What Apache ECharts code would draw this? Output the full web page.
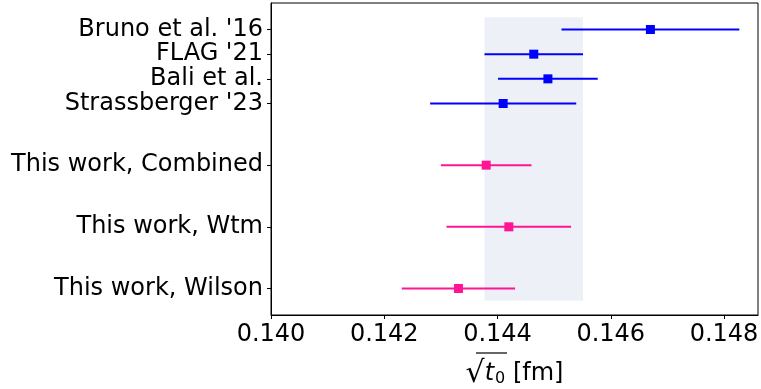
<!DOCTYPE html>
<html>
<head>
<meta charset="utf-8">
<script src="https://cdn.jsdelivr.net/npm/echarts@6/dist/echarts.min.js"></script>
<style>html,body{margin:0;padding:0;background:#fff}#main{width:761px;height:389px}</style>
</head>
<body>
<div id="main"></div>
<script>
// rows, bottom to top
var labels = ['This work, Wilson', 'This work, Wtm', 'This work, Combined', "Strassberger '23", 'Bali et al.', "FLAG '21", "Bruno et al. '16"];
var rowPos = [0, 2.5, 5, 7.5, 8.5, 9.5, 10.5];
var centers = [0.14331, 0.14420, 0.14380, 0.14410, 0.14489, 0.14464, 0.14670];
var errors = [0.00100, 0.00110, 0.00080, 0.00129, 0.00088, 0.00087, 0.00157];
var groups = ['this', 'this', 'this', 'ref', 'ref', 'ref', 'ref'];
var xTicks = [0.140, 0.142, 0.144, 0.146, 0.148];
var bandX = [0.14377, 0.14551];   // FLAG band
var bandY = [-0.5, 11];

var colorOf = { 'this': '#ff1493', 'ref': '#0000ff' };
var font = 'DejaVu Sans';
var fs = 24;

var pts = [];
for (var i = 0; i < labels.length; i++) {
	pts.push([centers[i], rowPos[i], errors[i], i]);
}

var chart = echarts.init(document.getElementById('main'));
var option = {
	animation: false,
	grid: {
		left: 271, right: 3, top: 3, bottom: 74,
		containLabel: false,
		outerBoundsMode: 'none',
		show: true, borderColor: '#000', borderWidth: 1, backgroundColor: 'transparent'
	},
	graphic: [
		// bar over t0 of the square root
		{ type: 'line', shape: { x1: 476, y1: 353, x2: 507, y2: 353 }, style: { stroke: '#000', lineWidth: 1.2 }, z: 10 }
	],
	xAxis: {
		type: 'value',
		min: 0.140,
		max: 0.1486,
		splitLine: { show: false },
		axisLine: { show: true, onZero: false, lineStyle: { color: '#000', width: 1 } },
		axisTick: { show: true, length: 4, lineStyle: { color: '#000' }, customValues: xTicks },
		axisLabel: {
			color: '#000', fontFamily: font, fontSize: fs, margin: 8,
			customValues: xTicks,
			formatter: function (v) { return v.toFixed(3); }
		},
		name: '{r|√}{i|t}{s|0}{n| [fm]}',
		nameLocation: 'middle',
		nameGap: 43,
		nameTextStyle: {
			color: '#000',
			rich: {
				r: { fontFamily: font, fontSize: 30, color: '#000', lineHeight: 32 },
				i: { fontFamily: font, fontSize: fs, fontStyle: 'italic', color: '#000', lineHeight: 32 },
				s: { fontFamily: font, fontSize: 16, color: '#000', lineHeight: 32, padding: [10, 0, 0, 1] },
				n: { fontFamily: font, fontSize: fs, color: '#000', lineHeight: 32 }
			}
		}
	},
	yAxis: {
		type: 'value',
		min: -1.075,
		max: 11.575,
		splitLine: { show: false },
		axisLine: { show: true, onZero: false, lineStyle: { color: '#000', width: 1 } },
		axisTick: { show: true, length: 4, lineStyle: { color: '#000' }, customValues: rowPos },
		axisLabel: {
			color: '#000', fontFamily: font, fontSize: fs, margin: 8,
			customValues: rowPos,
			formatter: function (v) {
				var k = rowPos.indexOf(v);
				return k >= 0 ? labels[k] : '';
			}
		}
	},
	series: [
		{
			type: 'custom',
			z: 1,
			data: [[bandX[0], bandY[0], bandX[1], bandY[1]]],
			renderItem: function (params, api) {
				var p1 = api.coord([api.value(0), api.value(3)]);
				var p2 = api.coord([api.value(2), api.value(1)]);
				return {
					type: 'rect',
					shape: { x: p1[0], y: p1[1], width: p2[0] - p1[0], height: p2[1] - p1[1] },
					style: { fill: '#edf0f6' }
				};
			},
			silent: true
		},
		{
			type: 'custom',
			z: 2,
			data: pts,
			renderItem: function (params, api) {
				var c = api.value(0), y = api.value(1), e = api.value(2);
				var a = api.coord([c - e, y]), b = api.coord([c + e, y]);
				return {
					type: 'line',
					shape: { x1: a[0], y1: a[1], x2: b[0], y2: b[1] },
					style: { stroke: colorOf[groups[api.value(3)]], lineWidth: 2 }
				};
			}
		},
		{
			type: 'scatter',
			z: 3,
			symbol: 'rect',
			symbolSize: 9,
			data: pts,
			itemStyle: {
				opacity: 1,
				color: function (p) { return colorOf[groups[p.data[3]]]; }
			}
		}
	]
};
chart.setOption(option);
window.onresize = chart.resize;
</script>
</body>
</html>
